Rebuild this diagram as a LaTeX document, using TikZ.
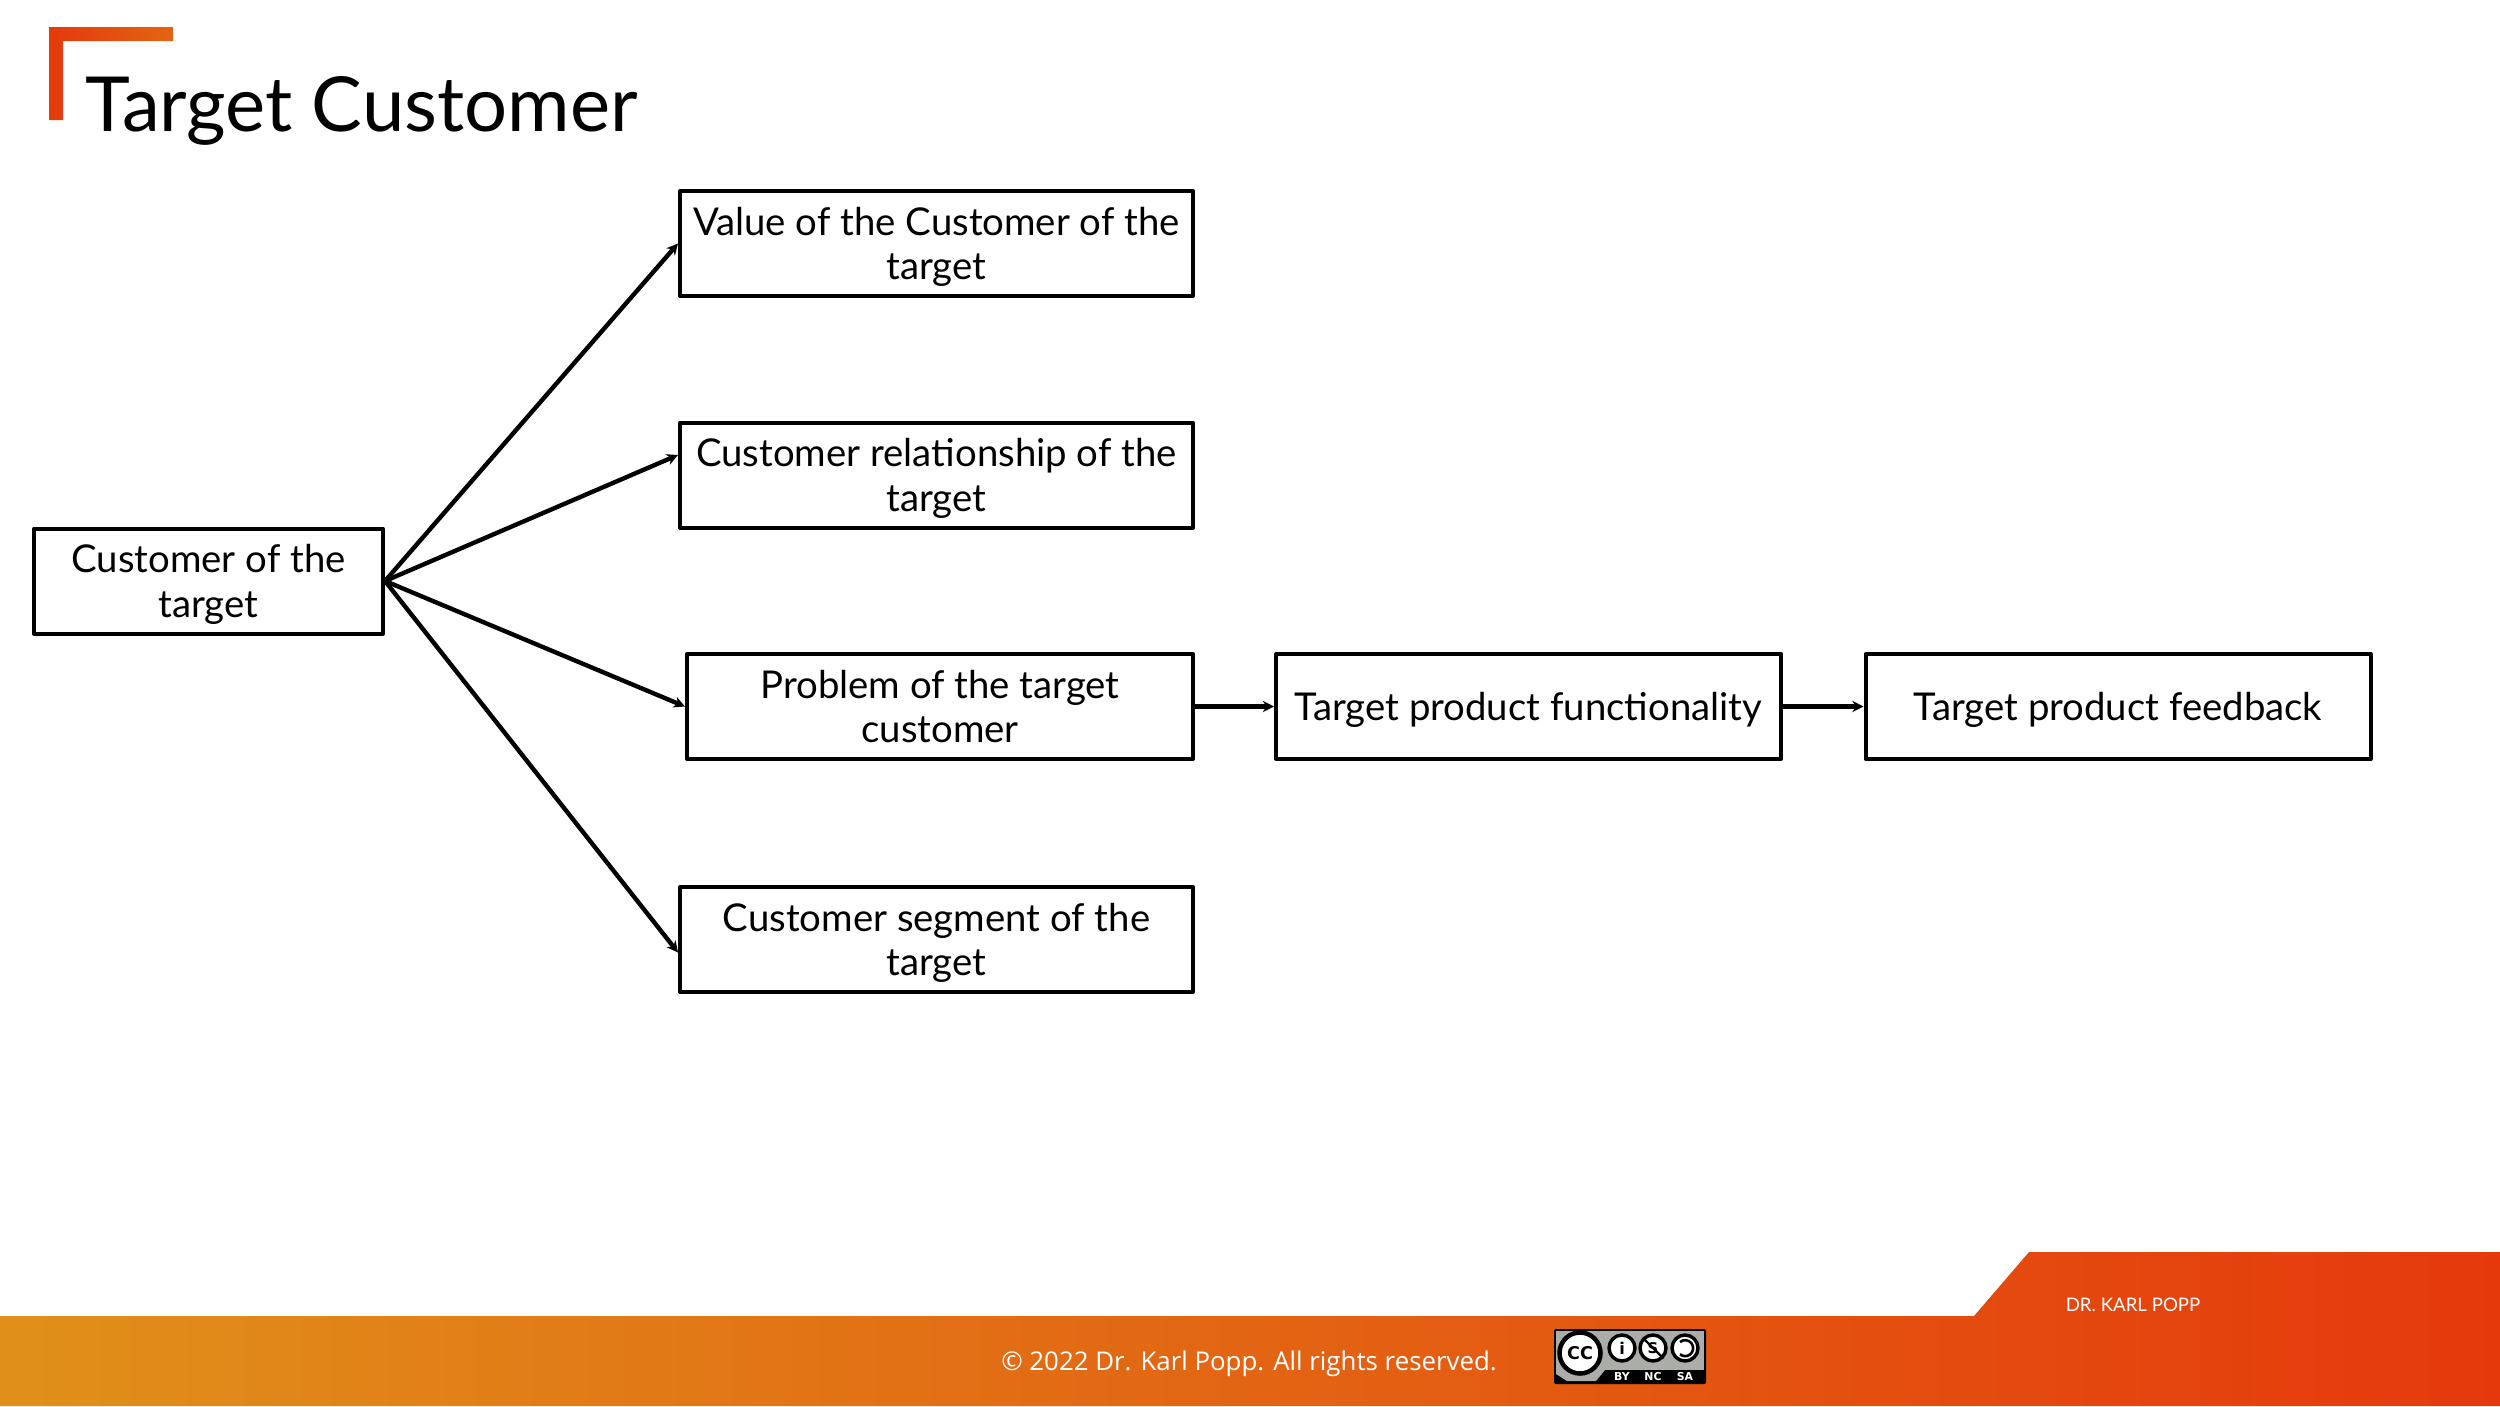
\documentclass[tikz,border=0pt]{standalone}
\usepackage{fontspec}
\setmainfont{Lato}
\newfontfamily\footfont{Open Sans}
\newfontfamily\badgefont{DejaVu Sans}
\usetikzlibrary{arrows.meta}
\definecolor{footleft}{HTML}{E0901A}
\definecolor{footmid}{HTML}{E26A12}
\definecolor{footright}{HTML}{E5390C}
\definecolor{badgegray}{HTML}{AAADA8}
\def\px{0.01cm}
\tikzset{
	box/.style={draw,line width=4*\px,minimum height=105*\px,inner sep=0pt,align=center,text depth=0pt,font=\fontsize{10.9}{12.6}\selectfont},
	link/.style={line width=4.4*\px},
	seal/.style={draw=black,fill=white,line width=3.4*\px,circle,inner sep=0pt}
}
\begin{document}
\begin{tikzpicture}[x=\px,y=-\px,>={Stealth[length=3.2pt,width=3.2pt]}, line join=round]
	\useasboundingbox (0,0) rectangle (2500,1406);
	% corner mark and title
	\shade[left color=footright,right color=footmid!90!footright] (49,27)--(173,27)--(173,41)--(63,41)--(63,120)--(49,120)--cycle;
	\node[anchor=base west,inner sep=0pt,font=\fontsize{21.6}{24}\selectfont] (title) at (85,131) {Target Customer};
	% boxes
	\node[box,minimum width=349*\px] (root) at (208.5,581) {Customer of the\\target};
	\node[box,minimum width=513*\px] (value) at (936.5,243.5) {Value of the Customer of the\\target};
	\node[box,minimum width=513*\px] (rel) at (936.5,475) {Customer relationship of the\\target};
	\node[box,minimum width=506*\px] (prob) at (940,706.5) {Problem of the target\\customer};
	\node[box,minimum width=513*\px] (seg) at (936.5,939.5) {Customer segment of the\\target};
	\node[box,minimum width=505*\px] (func) at (1528.5,706.5) {Target product functionality};
	\node[box,minimum width=505*\px] (feed) at (2118,706.5) {Target product feedback};
	% connectors
	\draw[link,->] (root.east)--(value.west);
	\draw[link,->] (root.east)--([yshift=0.2cm]rel.west);
	\draw[link,->] (root.east)--(prob.west);
	\draw[link,->] (root.east)--([yshift=-0.13cm]seg.west);
	\draw[link,->] (prob)--(func);
	\draw[link,->] (func)--(feed);
	% footer
	\shade[left color=footleft,middle color=footmid,right color=footright] (0,1316)--(1974,1316)--(2029,1252)--(2500,1252)--(2500,1406)--(0,1406)--cycle;
	\node[text=white,inner sep=0pt,font=\footfont\fontsize{7.35}{10}\selectfont] (rights) at (1249,1364) {© 2022 Dr. Karl Popp. All rights reserved.};
	\node[text=white,inner sep=0pt,font=\fontsize{5.3}{6}\selectfont] (author) at (2133,1305) {DR. KARL POPP};
	% licence badge
	\fill[black,rounded corners=2*\px] (1554,1329) rectangle (1706,1384);
	\fill[badgegray] (1556,1331) rectangle (1704,1370);
	\fill[badgegray] (1556,1370)--(1605,1370)--(1596,1381)--(1567,1381)--(1556,1374)--cycle;
	\node[seal,line width=4.5*\px,minimum size=41*\px,font=\badgefont\bfseries\fontsize{5}{6}\selectfont] (cc) at (1580,1353) {CC};
	\node[seal,minimum size=26*\px,font=\badgefont\bfseries\fontsize{4.6}{6}\selectfont] (by) at (1622,1348) {i};
	\node[seal,minimum size=26*\px,font=\badgefont\bfseries\fontsize{4.2}{6}\selectfont] (nc) at (1653,1348) {S};
	\draw[line width=2.4*\px] (nc.north west)--(nc.south east);
	\node[seal,minimum size=26*\px] (sa) at (1685,1348) {};
	\draw[line width=2.6*\px] ([xshift=-0.05cm,yshift=0.06cm]sa.center) arc (130:-130:0.08cm);
	\fill ([xshift=-0.09cm]sa.center) -- ++(0.08,0.05) -- ++(0,-0.1) -- cycle;
	\foreach \n/\t in {1622/BY,1653/NC,1685/SA}
	{\node[text=white,inner sep=0pt,font=\badgefont\bfseries\fontsize{3.1}{4}\selectfont] at (\n,1376.5) {\t};}
\end{tikzpicture}
\end{document}
